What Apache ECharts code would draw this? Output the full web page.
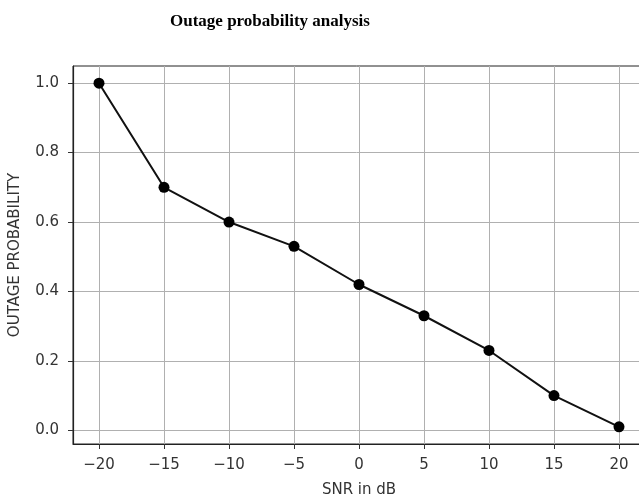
<!DOCTYPE html>
<html>
<head>
<meta charset="utf-8">
<script src="https://cdn.jsdelivr.net/npm/echarts@6/dist/echarts.min.js"></script>
<style>
  html, body { margin: 0; padding: 0; background: #fff; overflow: hidden; }
  #chart { width: 639px; height: 497px; }
</style>
</head>
<body>
<div id="chart"></div>
<script>
const snr = [-20, -15, -10, -5, 0, 5, 10, 15, 20];
const outage = [1.0, 0.7, 0.6, 0.53, 0.42, 0.33, 0.23, 0.10, 0.01];
const xTicks = [-20, -15, -10, -5, 0, 5, 10, 15, 20];
const yTicks = [0, 0.2, 0.4, 0.6, 0.8, 1.0];

const chart = echarts.init(document.getElementById("chart"), null, { renderer: "canvas" });

const axisText = { color: "#333", fontFamily: "DejaVu Sans", fontSize: 15 };

// the right spine sits just past the window edge, like the cropped original
chart.setOption({
  animation: false,
  title: {
    text: "Outage probability analysis",
    left: 165, top: 8,
    textStyle: { fontFamily: "Liberation Serif", fontWeight: "bold", fontSize: 17, color: "#000" }
  },
  grid: {
    left: 73, top: 66, width: 572, height: 378,
    outerBoundsMode: "none",
    show: true, borderColor: "#222", borderWidth: 1
  },
  xAxis: {
    type: "value", min: -22, max: 22,
    name: "SNR in dB", nameLocation: "middle", nameGap: 39,
    nameTextStyle: { color: "#333", fontFamily: "DejaVu Sans", fontSize: 15 },
    axisLine: { onZero: false, lineStyle: { color: "#222", width: 1.2 } },
    axisTick: { show: true, length: 5, lineStyle: { color: "#333" }, customValues: xTicks },
    axisLabel: {
      ...axisText, margin: 14, customValues: xTicks,
      formatter: v => (v < 0 ? "\u2212" + Math.abs(v) : String(v))
    },
    splitLine: { show: true, lineStyle: { color: "#b0b0b0", width: 1 } }
  },
  yAxis: {
    type: "value", min: -0.0395, max: 1.0495,
    name: "OUTAGE PROBABILITY", nameLocation: "middle", nameGap: 50, nameRotate: 90,
    nameTextStyle: { color: "#333", fontFamily: "DejaVu Sans", fontSize: 15 },
    axisLine: { show: true, onZero: false, lineStyle: { color: "#222", width: 1.2 } },
    axisTick: { show: true, length: 5, lineStyle: { color: "#333" }, customValues: yTicks },
    axisLabel: { ...axisText, margin: 14, customValues: yTicks, formatter: v => v.toFixed(1) },
    splitLine: { show: true, lineStyle: { color: "#b0b0b0", width: 1 } }
  },
  series: [{
    type: "line",
    data: snr.map((x, i) => [x, outage[i]]),
    symbol: "circle", symbolSize: 11, showSymbol: true,
    lineStyle: { color: "#111", width: 2 },
    itemStyle: { color: "#000" }
  }]
});
</script>
</body>
</html>
